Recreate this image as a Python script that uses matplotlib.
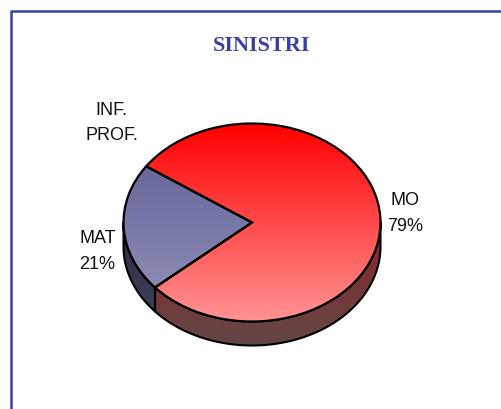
import numpy as np
import matplotlib
matplotlib.use("Agg")
import matplotlib.pyplot as plt
from matplotlib.colors import LinearSegmentedColormap
from matplotlib.lines import Line2D

# Data
categories = ["MO", "MAT"]
values = [79, 21]
title = "SINISTRI"
extra_label = "INF.\nPROF."

# Style / layout (pixels of the 502x409 image)
W, H = 502, 409
CX, CY, RX, RY = 252.0, 222.5, 128.5, 99.0
DEPTH_PX = 24
START = 221
top_grad = {"MO": ("#FF0000", "#FF9494"), "MAT": ("#666699", "#9595BD")}
side_grad = {"MO": ("#8E2626", "#624747"), "MAT": ("#2E2E48", "#42425A")}
FRAME = "#3B3FA6"

fig = plt.figure(figsize=(W / 100, H / 100), dpi=100, facecolor="white")
ax = fig.add_axes([0, 0, 1, 1])
xlim = (-CX / RX, (W - CX) / RX)
ylim = ((CY - H) / RY, CY / RY)
depth = DEPTH_PX / RY


def grad_image(c0, c1, clip, y0, y1, z):
    cmap = LinearSegmentedColormap.from_list("g", [c0, c1])
    g = np.linspace(0, 1, 256).reshape(-1, 1)
    im = ax.imshow(g, cmap=cmap, extent=(-1.05, 1.05, y0, y1), origin="upper",
                   aspect="auto", zorder=z, interpolation="bilinear")
    im.set_clip_path(clip)


# Slice angles come from the values
fractions = np.array(values) / np.sum(values)
edges = START + np.concatenate([[0], np.cumsum(fractions)]) * 360

# Side wall: only the part of each slice's rim facing the viewer
for i, name in enumerate(categories):
    a0, a1 = edges[i], edges[i + 1]
    for shift in (0, 360):
        lo, hi = max(a0, 180 + shift), min(a1, 360 + shift)
        if hi <= lo:
            continue
        t = np.radians(np.linspace(lo, hi, 200))
        x = np.cos(t)
        y = np.sin(t)
        poly = ax.fill(np.r_[x, x[::-1]], np.r_[y, y[::-1] - depth],
                       facecolor="none", edgecolor="black", lw=1.5,
                       zorder=2, joinstyle="round")[0]
        grad_image(*side_grad[name], poly, -1 - depth - 0.02, 0, 1)

# Top face
wedges, _ = ax.pie(values, startangle=START, radius=1, center=(0, 0),
                   counterclock=True,
                   wedgeprops=dict(facecolor="none", edgecolor="black", linewidth=1.6, zorder=4))
for w, name in zip(wedges, categories):
    grad_image(*top_grad[name], w, -1, 1 if name == "MO" else 0.62, 3)

ax.set_aspect("auto")
ax.set_xlim(xlim)
ax.set_ylim(ylim)
ax.axis("off")

# Outer frame
fig.add_artist(Line2D([1, 11.5 / W, 11.5 / W], [1 - 10.5 / H, 1 - 10.5 / H, 0],
                      color=FRAME, lw=1.8, transform=fig.transFigure))


def label(px, py, s, **kw):
    fig.text(px / W, 1 - py / H, s, ha="center", va="center", **kw)


label(261.5, 46, title, family="Liberation Serif", fontweight="bold", fontsize=16, color=FRAME)
lab = dict(family="Liberation Sans", fontsize=13, color="#111111", linespacing=1.62)
label(111.5, 123, extra_label, **lab)
label(405, 213.5, f"{categories[0]}\n{values[0]}%", **lab)
label(97.5, 251.5, f"{categories[1]}\n{values[1]}%", **lab)

fig.savefig("out.png", dpi=100, facecolor="white")
